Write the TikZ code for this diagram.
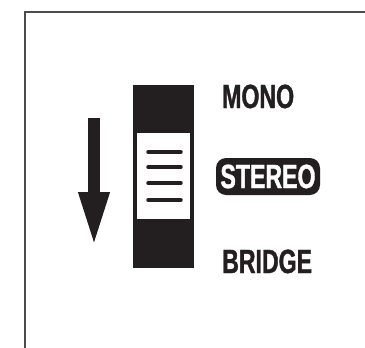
\documentclass[tikz,border=0pt]{standalone}
\usepackage{fontspec}
\usepackage{tikz}
\usetikzlibrary{arrows.meta, positioning}
\newfontfamily\switchfont[FakeStretch=0.69, FakeBold=1.2]{Liberation Sans}
\newcommand\labelsize{\fontsize{33.5pt}{35pt}\selectfont}
\definecolor{ink}{HTML}{231F20}

\begin{document}
\begin{tikzpicture}[
  x=1pt, y=-1pt,
  frame/.style={draw=black!70, line width=1.5pt},
  slot/.style={fill=ink},
  grip/.style={draw=ink, line width=3.5pt, line cap=round},
  modelabel/.style={font=\switchfont\bfseries, execute at begin node=\labelsize, text=ink, inner sep=0pt, anchor=base west},
  activebox/.style={fill=ink, text=white, rounded corners=10pt, minimum width=104pt, minimum height=37pt, inner sep=0pt, font=\switchfont\bfseries, execute at begin node=\labelsize},
  arrow/.style={-{Triangle[length=55pt, width=28pt]}, draw=ink, line width=12pt}
]
  \useasboundingbox (0,0) rectangle (365,348);
  \draw[frame] (25,348) -- (25,12) -- (365,12);

  % slider
  \fill[slot] (133,85) rectangle (194,268);
  \fill[white] (137,133) rectangle (190,219);
  \foreach \y in {152,167,183,200}
    \draw[grip] (148,\y) -- (181,\y);

  % direction arrow
  \coordinate (arrowtop) at (94,118);
  \coordinate (arrowtip) at (94,247);
  \draw[arrow] (arrowtop) -- (arrowtip);

  % positions
  \node[modelabel] (mono) at (222,108) {MONO};
  \node[activebox] (stereo) at (268,176.5) {STEREO};
  \node[modelabel] (bridge) at (222,273) {BRIDGE};
\end{tikzpicture}
\end{document}
